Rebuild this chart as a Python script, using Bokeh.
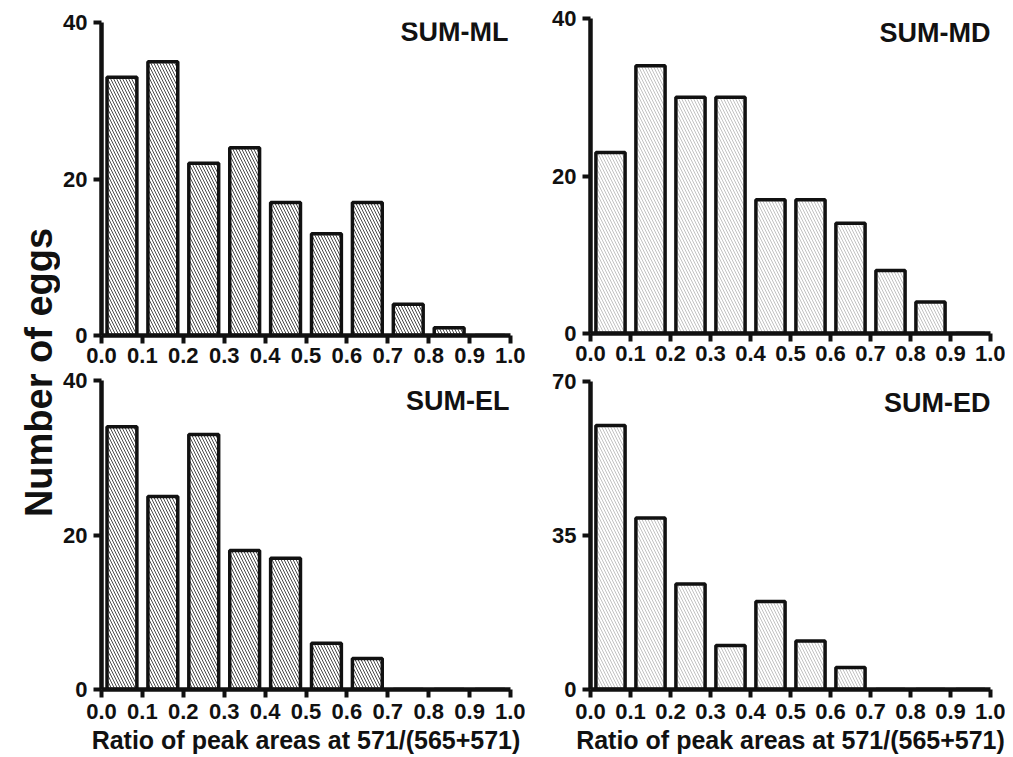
import math
from bokeh.plotting import figure
from bokeh.models import Range1d, FixedTicker, Label, NumeralTickFormatter
from bokeh.layouts import row, column
from bokeh.embed import file_html
from bokeh.resources import INLINE

# ---------------- data ----------------
bin_centers = [0.05, 0.15, 0.25, 0.35, 0.45, 0.55, 0.65, 0.75, 0.85, 0.95]
x_ticks = [0.0, 0.1, 0.2, 0.3, 0.4, 0.5, 0.6, 0.7, 0.8, 0.9, 1.0]

sum_ml = [33, 35, 22, 24, 17, 13, 17, 4, 1, 0]
sum_md = [23, 34, 30, 30, 17, 17, 14, 8, 4, 0]
sum_el = [34, 25, 33, 18, 17, 6, 4, 0, 0, 0]
sum_ed = [60, 39, 24, 10, 20, 11, 5, 0, 0, 0]

title_ml = "SUM-ML"
title_md = "SUM-MD"
title_el = "SUM-EL"
title_ed = "SUM-ED"

y_ticks_40 = [0, 20, 40]
y_ticks_70 = [0, 35, 70]

x_axis_title = "Ratio of peak areas at 571/(565+571)"
y_axis_title = "Number of eggs"

FONT = "Liberation Sans"
BAR_WIDTH = 0.073
INK = "#111111"


def make_panel(values, title, y_ticks, width, height, borders, hatch_color,
               title_dx, title_dy, x_standoff, xlabel=None):
    top, right, bottom, left = borders
    p = figure(width=width, height=height, output_backend="svg",
               toolbar_location=None,
               x_range=Range1d(0, 1), y_range=Range1d(0, y_ticks[-1]),
               min_border_top=top, min_border_right=right,
               min_border_bottom=bottom, min_border_left=left)
    p.outline_line_color = None
    p.grid.visible = False
    p.background_fill_color = "white"
    p.border_fill_color = "white"

    p.vbar(x=bin_centers, top=values, width=BAR_WIDTH, bottom=0,
           fill_color="white", line_color=INK, line_width=3.5,
           hatch_pattern="\\", hatch_color=hatch_color, hatch_scale=6,
           hatch_weight=1)

    for ax in (p.xaxis[0], p.yaxis[0]):
        ax.axis_line_width = 4.5
        ax.axis_line_color = INK
        ax.major_tick_line_width = 4
        ax.major_tick_line_color = INK
        ax.major_tick_in = 0
        ax.major_tick_out = 8
        ax.minor_tick_line_color = None
        ax.major_label_text_font = FONT
        ax.major_label_text_font_style = "bold"
        ax.major_label_text_font_size = "22px"
        ax.major_label_text_color = INK
        ax.major_label_standoff = 6
    p.xaxis.major_label_standoff = x_standoff

    p.xaxis.ticker = FixedTicker(ticks=x_ticks)
    p.xaxis.formatter = NumeralTickFormatter(format="0.0")
    p.yaxis.ticker = FixedTicker(ticks=y_ticks)

    if xlabel:
        p.xaxis.axis_label = xlabel
        p.xaxis.axis_label_text_font = FONT
        p.xaxis.axis_label_text_font_style = "bold"
        p.xaxis.axis_label_text_font_size = "25px"
        p.xaxis.axis_label_text_color = INK
        p.xaxis.axis_label_standoff = 4

    p.add_layout(Label(x=1.0, y=y_ticks[-1], x_offset=title_dx, y_offset=title_dy,
                       text=title, text_align="right", text_baseline="top",
                       text_font=FONT, text_font_style="bold",
                       text_font_size="27px", text_color=INK))
    return p


LEFT_HATCH = "#4a4a4a"
RIGHT_HATCH = "#c2c2c2"

tl = make_panel(sum_ml, title_ml, y_ticks_40, 465, 368, (22, 15, 33, 37),
                LEFT_HATCH, -2, 6, 4)
tr = make_panel(sum_md, title_md, y_ticks_40, 480, 368, (18, 15, 35, 65),
                RIGHT_HATCH, 0, 1, 4)
bl = make_panel(sum_el, title_el, y_ticks_40, 465, 388, (12, 15, 66, 37),
                LEFT_HATCH, -1, -5, 6, xlabel=x_axis_title)
br = make_panel(sum_ed, title_ed, y_ticks_70, 480, 388, (13, 15, 64, 65),
                RIGHT_HATCH, 0, -6, 6, xlabel=x_axis_title)

# shared y-axis title
lab = figure(width=60, height=756, output_backend="svg", toolbar_location=None,
             x_range=Range1d(0, 60), y_range=Range1d(0, 756),
             x_axis_location=None, y_axis_location=None,
             min_border=0)
lab.outline_line_color = None
lab.grid.visible = False
lab.add_layout(Label(x=38, y=384, text=y_axis_title, angle=math.pi / 2,
                     text_align="center", text_baseline="middle",
                     text_font=FONT, text_font_style="bold",
                     text_font_size="38px", text_color=INK))

layout = row(lab, column(tl, bl), column(tr, br))

open("out.html", "w").write(file_html(layout, INLINE))
